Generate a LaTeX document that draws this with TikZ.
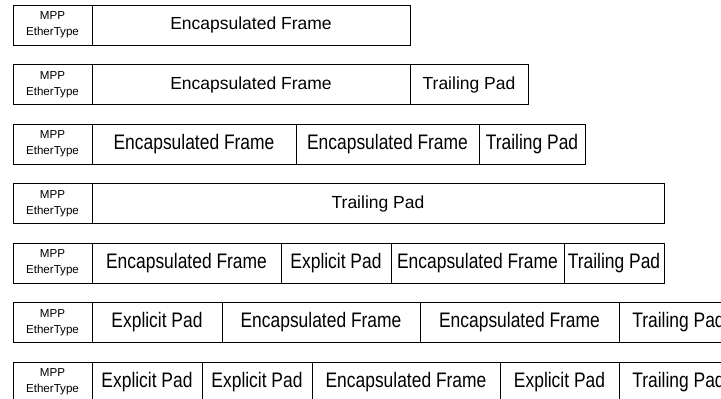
\documentclass[tikz,border=0pt]{standalone}
\usepackage{fontspec}
\setmainfont{Liberation Sans}
\newfontfamily\narrowfont[FakeStretch=0.83]{Liberation Sans}
\usetikzlibrary{positioning}

\newcommand{\normaltext}{\fontsize{17.5}{20}\selectfont}
\newcommand{\narrowtext}{\narrowfont\fontsize{21}{24}\selectfont}
\newcommand{\mpptext}{\fontsize{11.6}{16}\selectfont}

\begin{document}
\begin{tikzpicture}[x=1pt, y=-1pt, node distance=19.5pt]
      \tikzstyle{cell} = [rectangle, draw=black, line width=0.9pt, minimum height=40pt, inner sep=0pt, outer sep=0pt, font=\normaltext]
      \tikzstyle{narrow} = [cell, font=\narrowtext]
      \tikzstyle{mpp} = [cell, minimum width=79pt, align=center, font=\mpptext]

      \path[use as bounding box, fill=white] (0,0) rectangle (721,399);
      \clip (0,0) rectangle (721,399);

      % row 1
      \node (mpp-1) [mpp, anchor=north west] at (13,5) {MPP\\EtherType};
      \node (frame-1) [cell, right=0pt of mpp-1, minimum width=318pt] {Encapsulated Frame};

      % row 2
      \node (mpp-2) [mpp, below=of mpp-1] {MPP\\EtherType};
      \node (frame-2) [cell, right=0pt of mpp-2, minimum width=318pt] {Encapsulated Frame};
      \node (trailing-2) [cell, right=0pt of frame-2, minimum width=118pt] {Trailing Pad};

      % row 3
      \node (mpp-3) [mpp, below=of mpp-2] {MPP\\EtherType};
      \node (frame-3a) [narrow, right=0pt of mpp-3, minimum width=204pt] {Encapsulated Frame};
      \node (frame-3b) [narrow, right=0pt of frame-3a, minimum width=183pt] {Encapsulated Frame};
      \node (trailing-3) [narrow, right=0pt of frame-3b, minimum width=106pt] {Trailing Pad};

      % row 4
      \node (mpp-4) [mpp, below=of mpp-3] {MPP\\EtherType};
      \node (trailing-4) [cell, right=0pt of mpp-4, minimum width=572pt] {Trailing Pad};

      % row 5
      \node (mpp-5) [mpp, below=of mpp-4] {MPP\\EtherType};
      \node (frame-5a) [narrow, right=0pt of mpp-5, minimum width=189pt] {Encapsulated Frame};
      \node (explicit-5) [narrow, right=0pt of frame-5a, minimum width=110pt] {Explicit Pad};
      \node (frame-5b) [narrow, right=0pt of explicit-5, minimum width=173pt] {Encapsulated Frame};
      \node (trailing-5) [narrow, right=0pt of frame-5b, minimum width=100pt] {Trailing Pad};

      % row 6
      \node (mpp-6) [mpp, below=of mpp-5] {MPP\\EtherType};
      \node (explicit-6) [narrow, right=0pt of mpp-6, minimum width=130pt] {Explicit Pad};
      \node (frame-6a) [narrow, right=0pt of explicit-6, minimum width=198pt] {Encapsulated Frame};
      \node (frame-6b) [narrow, right=0pt of frame-6a, minimum width=199pt] {Encapsulated Frame};
      \node (trailing-6) [narrow, right=0pt of frame-6b, minimum width=119pt] {Trailing Pad};

      % row 7
      \node (mpp-7) [mpp, below=of mpp-6] {MPP\\EtherType};
      \node (explicit-7a) [narrow, right=0pt of mpp-7, minimum width=110pt] {Explicit Pad};
      \node (explicit-7b) [narrow, right=0pt of explicit-7a, minimum width=110pt] {Explicit Pad};
      \node (frame-7) [narrow, right=0pt of explicit-7b, minimum width=188pt] {Encapsulated Frame};
      \node (explicit-7c) [narrow, right=0pt of frame-7, minimum width=119pt] {Explicit Pad};
      \node (trailing-7) [narrow, right=0pt of explicit-7c, minimum width=119pt] {Trailing Pad};
    \end{tikzpicture}
\end{document}
